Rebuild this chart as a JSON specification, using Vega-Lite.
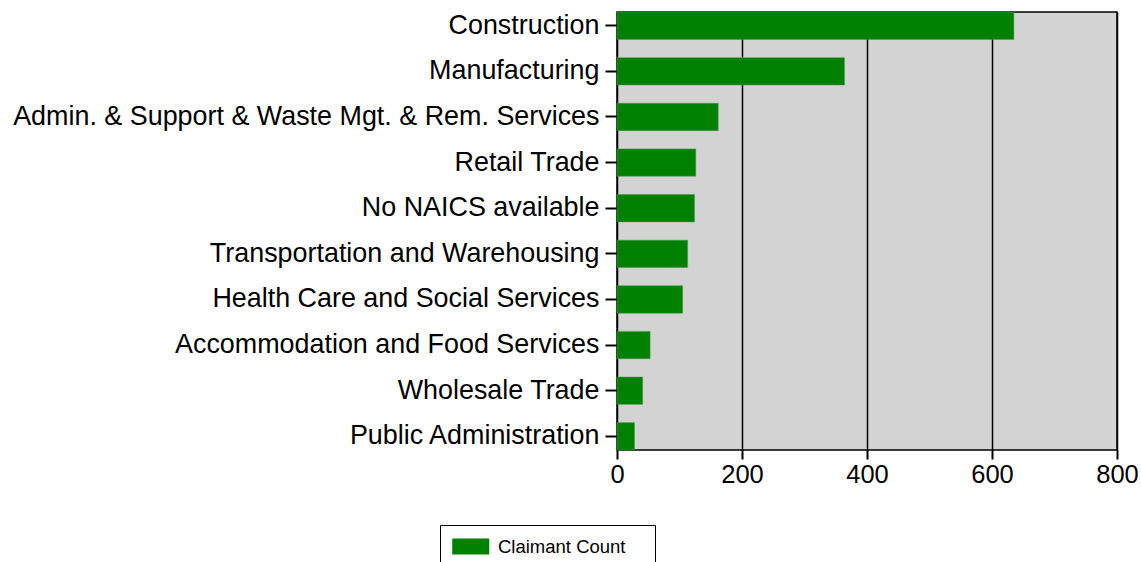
{
  "$schema": "https://vega.github.io/schema/vega-lite/v6.json",
  "width": 500,
  "height": 438,
  "autosize": {"type": "none"},
  "padding": {"left": 617, "top": 12, "right": 24, "bottom": 112},
  "background": "white",
  "data": {
    "values": [
      {"industry": "Construction", "count": 635, "series": "Claimant Count"},
      {"industry": "Manufacturing", "count": 364, "series": "Claimant Count"},
      {"industry": "Admin. & Support & Waste Mgt. & Rem. Services", "count": 162, "series": "Claimant Count"},
      {"industry": "Retail Trade", "count": 126, "series": "Claimant Count"},
      {"industry": "No NAICS available", "count": 124, "series": "Claimant Count"},
      {"industry": "Transportation and Warehousing", "count": 113, "series": "Claimant Count"},
      {"industry": "Health Care and Social Services", "count": 105, "series": "Claimant Count"},
      {"industry": "Accommodation and Food Services", "count": 53, "series": "Claimant Count"},
      {"industry": "Wholesale Trade", "count": 41, "series": "Claimant Count"},
      {"industry": "Public Administration", "count": 28, "series": "Claimant Count"}
    ]
  },
  "config": {
    "font": "Liberation Sans",
    "view": {"fill": "#d3d3d3", "stroke": "black", "strokeWidth": 1.5},
    "axis": {"domain": false, "labelColor": "black", "tickColor": "black", "labelFont": "Liberation Sans"}
  },
  "mark": {"type": "bar", "stroke": "#4a9a4a", "strokeWidth": 0.5},
  "encoding": {
    "y": {
      "field": "industry",
      "type": "nominal",
      "sort": "-x",
      "title": null,
      "scale": {"paddingInner": 0.4, "paddingOuter": 0},
      "axis": {"labelFontSize": 26.9, "tickSize": 12, "tickWidth": 2, "labelPadding": 6, "labelLimit": 700, "grid": false}
    },
    "x": {
      "field": "count",
      "type": "quantitative",
      "title": null,
      "scale": {"domain": [0, 800], "nice": false},
      "axis": {"values": [0, 200, 400, 600, 800], "labelFontSize": 25.5, "tickSize": 9, "tickWidth": 2, "labelPadding": 3, "grid": true, "gridColor": "black", "gridWidth": 1.5, "gridOpacity": 1, "labelFlush": false}
    },
    "color": {
      "field": "series",
      "type": "nominal",
      "scale": {"range": ["#008000"]},
      "legend": {
        "title": null,
        "orient": "none",
        "legendX": -177,
        "legendY": 513,
        "strokeColor": "black",
        "fillColor": "white",
        "padding": 12,
        "symbolType": "M-1,-0.865H3V0.865H-1Z M19.6,0",
        "symbolSize": 342,
        "symbolStrokeWidth": 0,
        "labelFontSize": 18.5,
        "labelColor": "black",
        "labelOffset": 27,
        "labelLimit": 300
      }
    }
  }
}
